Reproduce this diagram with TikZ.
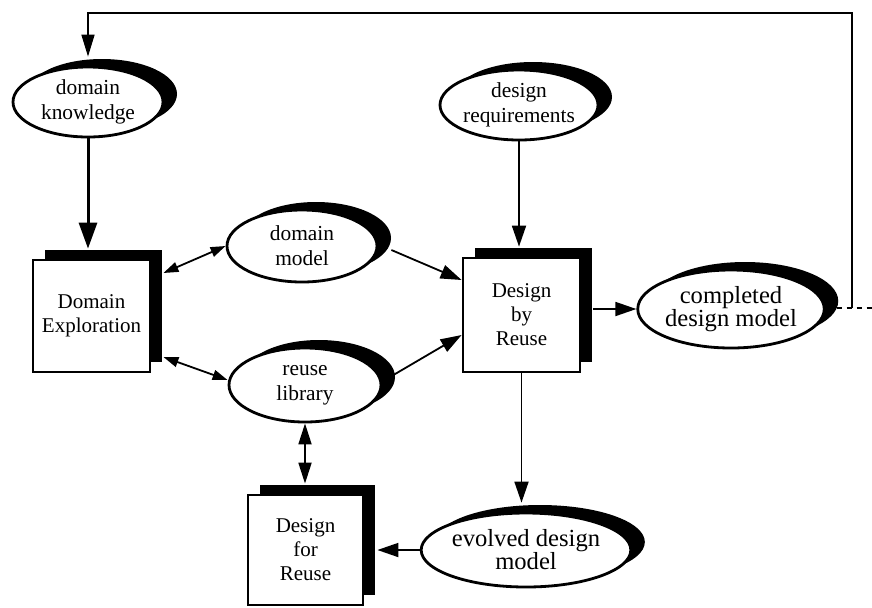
\documentclass[tikz,border=0pt]{standalone}
\usepackage{fontspec}
\setmainfont{Liberation Serif}
\usetikzlibrary{shapes.geometric,arrows.meta,shadows,calc}
\begin{document}
\begin{tikzpicture}[x=0.5pt,y=-0.5pt,
  ell/.style={ellipse, draw, line width=1.4pt, fill=white, inner sep=0pt, align=center,
    general shadow={shadow xshift=7pt, shadow yshift=4pt, fill=black},
    font=\fontsize{10.7}{12.5}\selectfont},
  bigell/.style={ell, font=\fontsize{12.3}{11.5}\selectfont},
  box/.style={rectangle, draw, line width=1.4pt, fill=white, inner sep=0pt, align=center,
    general shadow={shadow xshift=6pt, shadow yshift=5pt, fill=black},
    font=\fontsize{10.5}{12}\selectfont},
  conn/.style={line width=0.9pt, -{Triangle[length=10.5pt,width=7pt]}},
  thickconn/.style={line width=1.5pt, -{Triangle[length=13pt,width=9pt]}},
  dblsmall/.style={line width=0.9pt, {Triangle[length=7.5pt,width=5pt]}-{Triangle[length=7.5pt,width=5pt]}},
  dbl/.style={line width=0.9pt, {Triangle[length=10.5pt,width=6.5pt]}-{Triangle[length=10.5pt,width=6.5pt]}},
  fbline/.style={line width=0.8pt, -{Triangle[length=11pt,width=6.5pt]}},
  fbdash/.style={line width=0.8pt, dash pattern=on 2.5pt off 2.5pt}
]
\useasboundingbox (0,0) rectangle (872,607);

% ellipses
\node[ell, minimum width=75pt, minimum height=35pt] (dk) at (88,102) {domain\\knowledge};
\node[ell, minimum width=75pt, minimum height=36pt] (dm) at (302,246) {domain\\model};
\node[ell, minimum width=76pt, minimum height=37pt] (rl) at (305,385) {reuse\\library};
\node[ell, minimum width=72pt, minimum height=35pt] (dr) at (519,105) {design\\requirements};
\node[bigell, minimum width=78pt, minimum height=39pt] (cdm) at (731,309) {completed\\design model};
\node[bigell, minimum width=78pt, minimum height=37pt] (edm) at (526,550) {evolved design\\model};

% boxes
\node[box, minimum width=58.5pt, minimum height=56pt] (de) at (91.5,316) {Domain\\Exploration};
\node[box, minimum width=58.5pt, minimum height=57pt] (dbr) at (521.5,315) {Design\\by\\Reuse};
\node[box, minimum width=57.5pt, minimum height=55pt] (dfr) at (305.5,550) {Design\\for\\Reuse};

% helper coordinates
\coordinate (detop) at ($(de.north)+(0,-10)$);
\coordinate (dbrtop) at ($(dbr.north)+(0,-10)$);
\coordinate (dbrsr) at ($(dbr.east)+(12,0)$);
\coordinate (edmtop) at ($(edm.north)+(0,-9)$);
\coordinate (dfrtop) at ($(dfr.north)+(0,-10)$);
\coordinate (dktop) at ($(dk.north)+(0,-9)$);
\coordinate (edgept) at (872,308);
\coordinate (fbcorner) at (852,13);

% connectors
\draw[thickconn] (dk.south) -- (dk.south |- detop);
\draw[dblsmall] ($(de.east)+(12,-43)$) -- (dm.west);
\draw[dblsmall] ($(de.east)+(12,41)$) -- ($(rl.west)+(0,-5)$);
\draw[conn] ($(dm.east)+(13,4)$) -- ($(dbr.west)+(0,-35)$);
\draw[conn] ($(rl.east)+(11,-10)$) -- ($(dbr.west)+(0,20)$);
\draw[conn] (dr.south) -- (dr.south |- dbrtop);
\draw[conn] (cdm.west -| dbrsr) -- (cdm.west);
\draw[conn] (dbr.south) -- (dbr.south |- edmtop);
\draw[conn] (edm.west) -- ($(dfr.east)+(13,0)$);
\draw[dbl] (rl.south) -- (rl.south |- dfrtop);

% feedback loop
\draw[fbdash] ($(cdm.east)+(11,-1)$) -- (edgept);
\draw[fbline] (fbcorner |- edgept) -- (fbcorner) -| (dktop);
\end{tikzpicture}
\end{document}
